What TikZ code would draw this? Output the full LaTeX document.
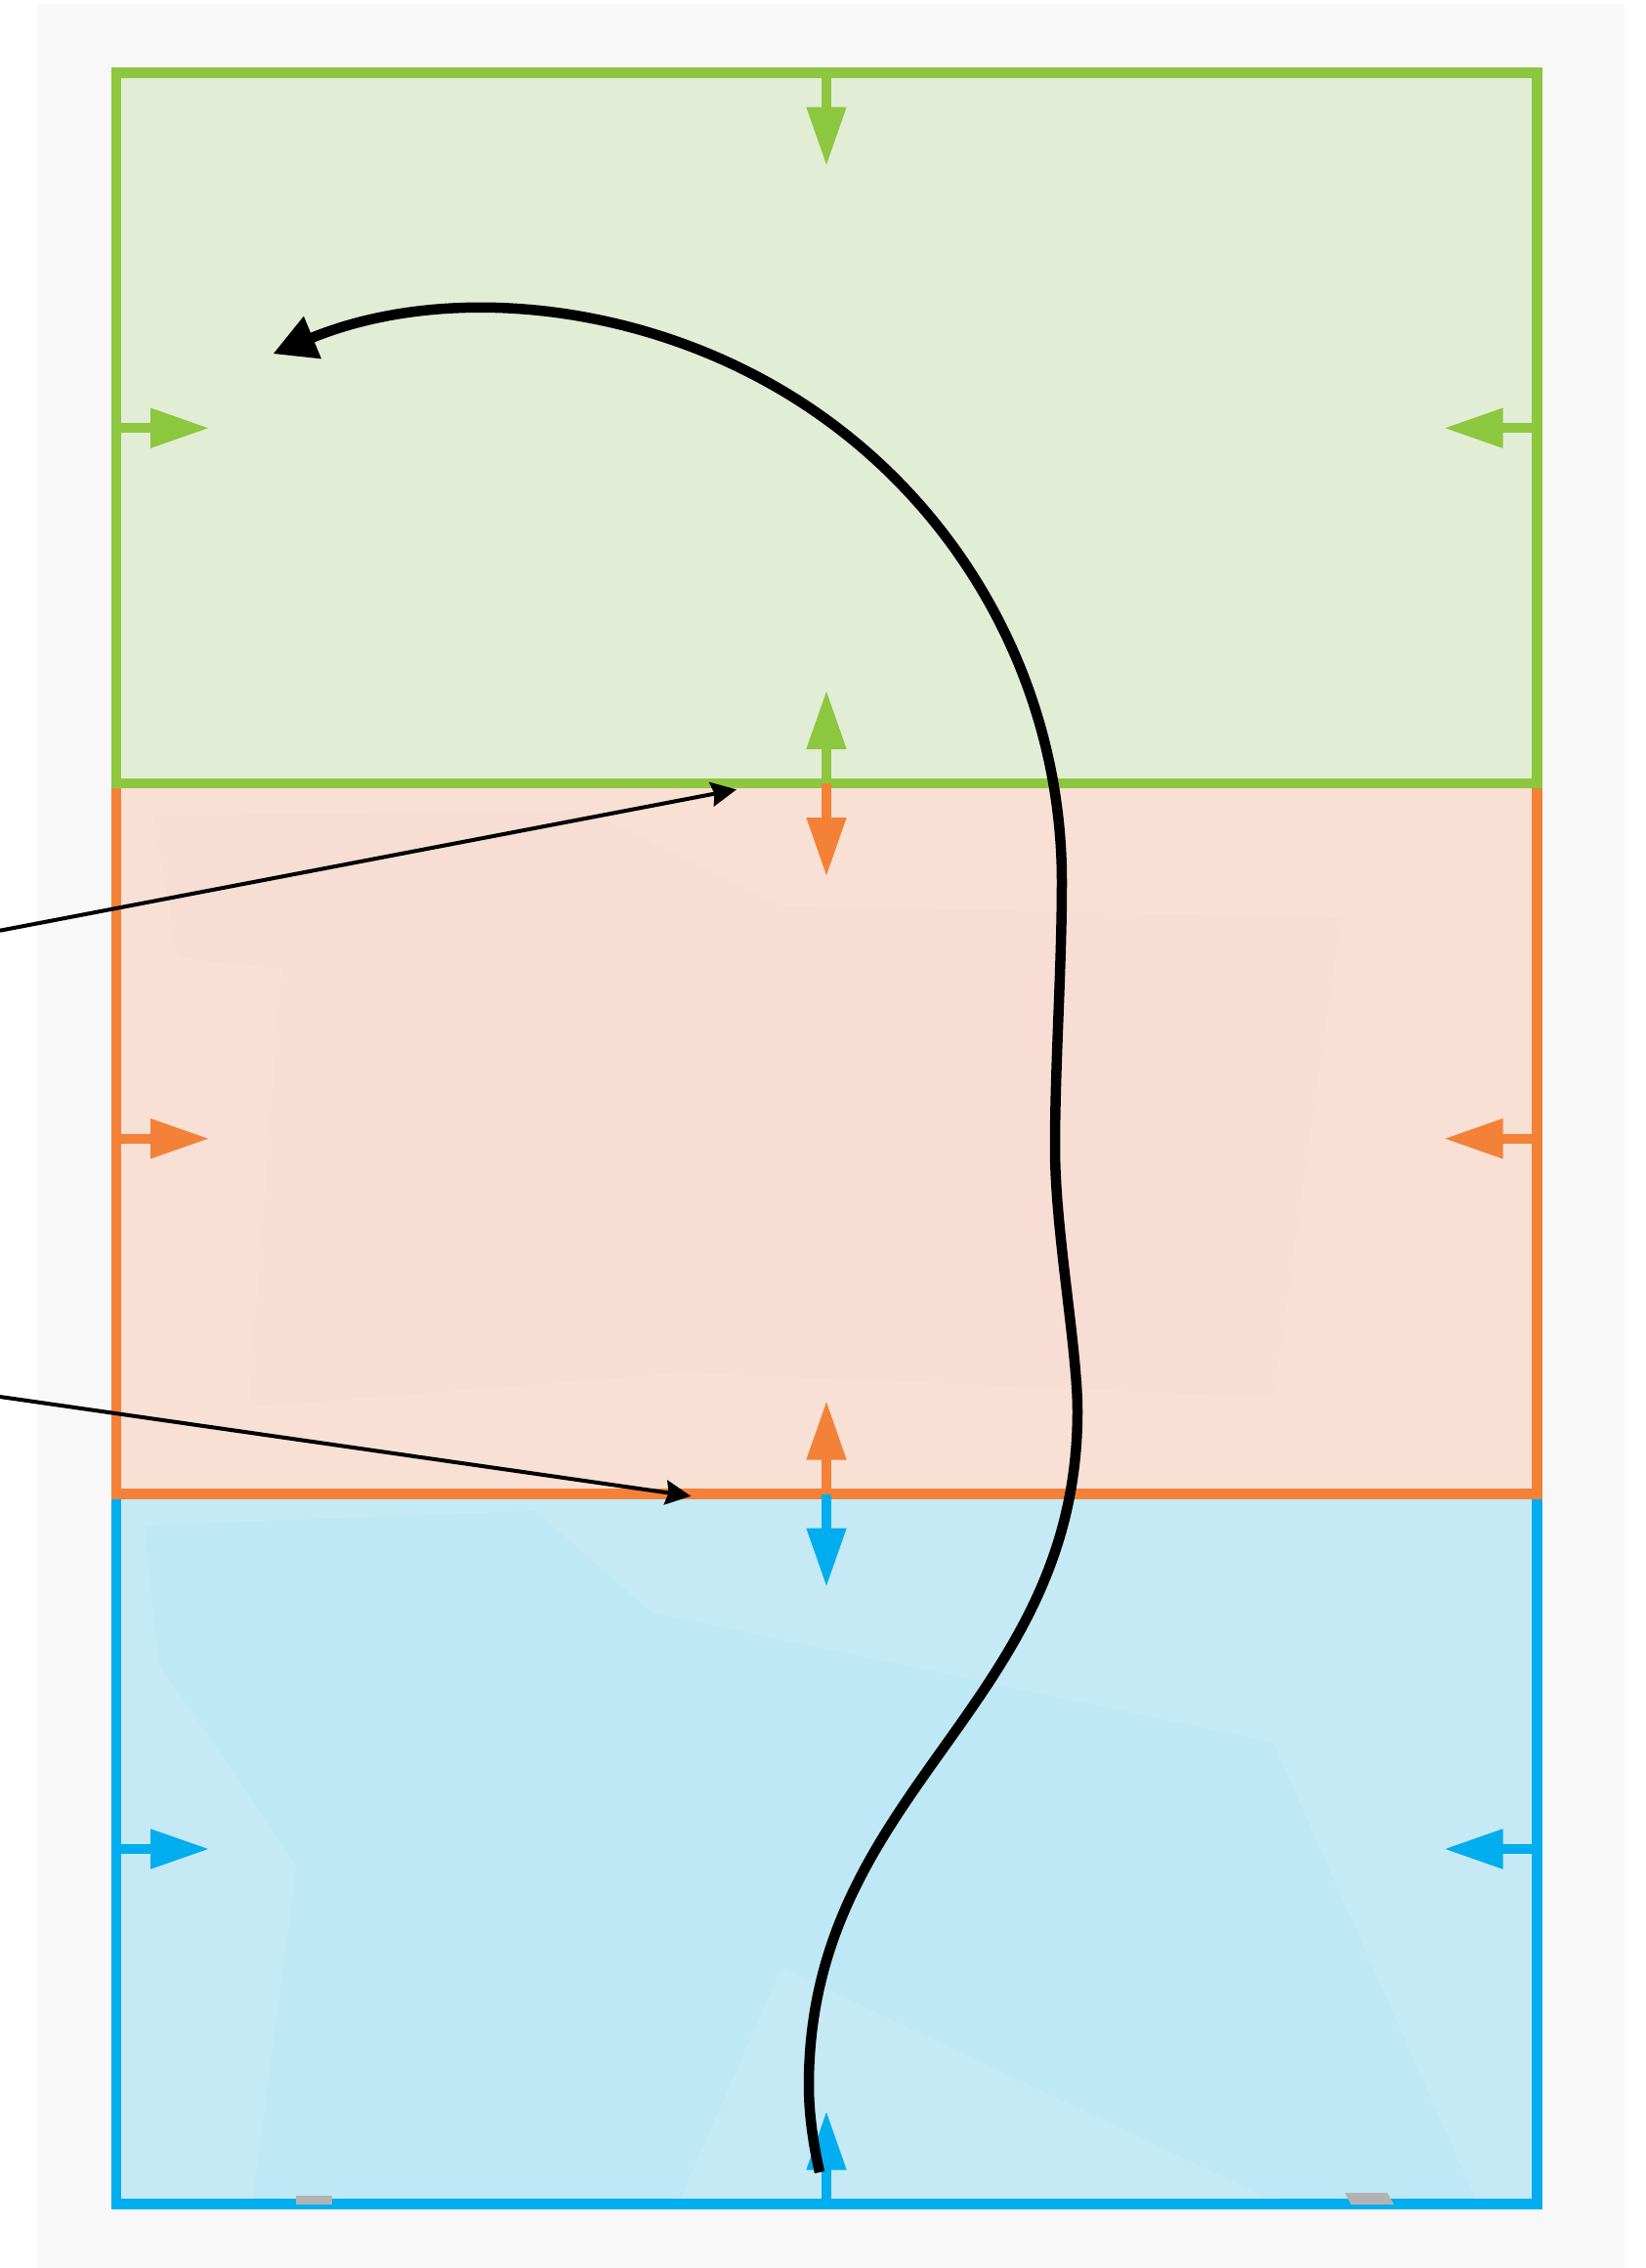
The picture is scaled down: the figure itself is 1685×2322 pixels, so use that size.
\documentclass[tikz,border=0pt]{standalone}
\usetikzlibrary{arrows.meta}
\definecolor{bggray}{HTML}{F8F8F8}
\definecolor{grnS}{HTML}{8DC63F}
\definecolor{grnF}{HTML}{E2EDD5}
\definecolor{orgS}{HTML}{F38137}
\definecolor{orgF}{HTML}{F8E0D5}
\definecolor{orgF2}{HTML}{F7DDD3}
\definecolor{bluS}{HTML}{00AEEF}
\definecolor{bluF}{HTML}{C5E9F5}
\definecolor{bluF2}{HTML}{BEE8F5}
\definecolor{tabgray}{HTML}{B3B3B3}
\begin{document}
\begin{tikzpicture}[x=1pt,y=-1pt,
  panelline/.style={line width=10.5pt},
  bdarrow/.pic={\fill (0,-5) rectangle (36,5); \fill (35,-20.7) -- (94,0) -- (35,20.7) -- cycle;},
  thinarrow/.style={line width=4pt, -{Stealth[length=26pt,width=25pt,inset=3pt]}},
  thickarrow/.style={line width=10.5pt, -{Triangle[length=44pt,width=44pt]}}]
\useasboundingbox (0,0) rectangle (1685,2322);
\fill[white] (0,0) rectangle (1685,2322);
\fill[bggray] (38,5) rectangle (1663,2322);
% panel fills
\fill[grnF] (119,74.5) rectangle (1573.5,802);
\fill[orgF] (119,802) rectangle (1573.5,1529.5);
\fill[orgF2] (158,836) -- (600,830) -- (800,928) -- (1372,940) -- (1303,1430) -- (700,1405) -- (255,1440) -- (289,992) -- (182,980) -- cycle;
\fill[bluF] (119,1529.5) rectangle (1573.5,2256.5);
\fill[bluF2] (148,1562) -- (548,1547) -- (666,1651) -- (1303,1784) -- (1510,2251) -- (1300,2251) -- (800,2014) -- (696,2251) -- (259,2251) -- (304,1910) -- (163,1703) -- cycle;
% panel borders
\draw[bluS,panelline] (119,1529.5) rectangle (1573.5,2256.5);
\draw[orgS,panelline] (119,802) rectangle (1573.5,1529.5);
\draw[grnS,panelline] (119,74.5) rectangle (1573.5,802);
% small gray tabs
\fill[tabgray] (303,2248) rectangle (340,2257);
\fill[tabgray] (1376.7,2245) -- (1420,2245) -- (1427,2257) -- (1383,2257) -- cycle;
% inward arrows
\pic[color=grnS, rotate=-90] at (846,74.5) {bdarrow};
\pic[color=grnS, rotate=0] at (119,438.25) {bdarrow};
\pic[color=grnS, rotate=180] at (1573.5,438.25) {bdarrow};
\pic[color=grnS, rotate=90] at (846,802) {bdarrow};
\pic[color=orgS, rotate=-90] at (846,802) {bdarrow};
\pic[color=orgS, rotate=0] at (119,1165.75) {bdarrow};
\pic[color=orgS, rotate=180] at (1573.5,1165.75) {bdarrow};
\pic[color=orgS, rotate=90] at (846,1529.5) {bdarrow};
\pic[color=bluS, rotate=-90] at (846,1529.5) {bdarrow};
\pic[color=bluS, rotate=0] at (119,1893) {bdarrow};
\pic[color=bluS, rotate=180] at (1573.5,1893) {bdarrow};
\pic[color=bluS, rotate=90] at (846,2256.5) {bdarrow};
% connectors
\coordinate (l1a) at (0,952.7);
\coordinate (l1b) at (754,808.3);
\coordinate (l2a) at (0,1430);
\coordinate (l2b) at (707.3,1531.7);
\coordinate (cstart) at (839,2224);
\coordinate (cleft) at (828,2135);
\coordinate (cright) at (1103,1445);
\coordinate (cdip) at (1080,1175);
\coordinate (carc) at (1087,902.5);
\draw[thinarrow] (l1a) -- (l1b);
\draw[thinarrow] (l2a) -- (l2b);
\draw[thickarrow] (cstart) .. controls (833,2197) and (828,2166) .. (cleft)
  .. controls (828,1831) and (1103,1749) .. (cright)
  .. controls (1103,1380) and (1080,1260) .. (cdip)
  .. controls (1080,1090) and (1087,990) .. (carc)
  arc[start angle=0, end angle=-112.45, radius=584.5];
\end{tikzpicture}
\end{document}
